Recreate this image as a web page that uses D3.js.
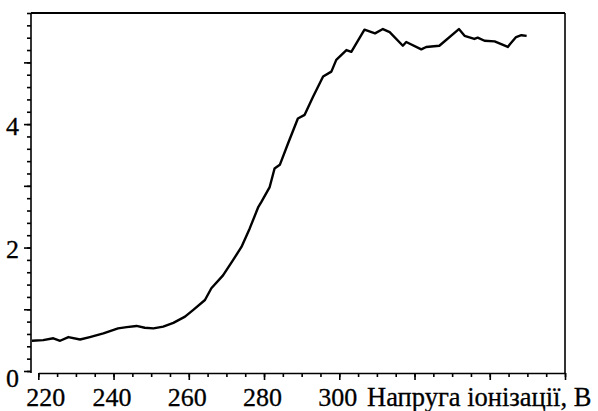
<!DOCTYPE html>
<html>
<head>
<meta charset="utf-8">
<script src="https://cdn.jsdelivr.net/npm/d3@7"></script>
<style>
  body { margin: 0; background: #fff; }
  .axis path, .axis line { stroke: #000; stroke-width: 1.6; }
</style>
</head>
<body>
<svg id="chart" width="598" height="411" font-family="Liberation Serif"></svg>
<script>
// Data
var voltage = [218.3, 221.3, 224, 225.8, 228, 231.1, 233.7, 237.3, 241.2, 243.5, 246.1, 248.3,
    250.6, 253.2, 255.9, 259, 261.2, 264.3, 266, 269.1, 271.8, 274, 276.2, 278.5, 279.3, 281.5,
    282.8, 284.2, 286.4, 289, 290.8, 293, 295.7, 297.9, 299.2, 301.9, 303.2, 306.7, 309.5, 311.6,
    313.4, 316.9, 317.8, 321.8, 323.1, 326.6, 331.8, 333.3, 335.9, 336.8, 338.6, 341.3, 344.8,
    345.3, 347, 348.4, 349.8];
var signal = [0.49, 0.50, 0.53, 0.49, 0.55, 0.51, 0.55, 0.61, 0.69, 0.71, 0.73, 0.70,
    0.69, 0.72, 0.78, 0.88, 0.99, 1.15, 1.34, 1.55, 1.80, 2.01, 2.31, 2.66, 2.74, 2.98,
    3.28, 3.34, 3.69, 4.09, 4.15, 4.44, 4.77, 4.85, 5.04, 5.20, 5.17, 5.53, 5.47, 5.54,
    5.49, 5.27, 5.33, 5.21, 5.25, 5.27, 5.54, 5.43, 5.38, 5.40, 5.35, 5.34, 5.25,
    5.29, 5.41, 5.44, 5.43];

var xLabels = [220, 240, 260, 280, 300];
var yLabels = [0, 2, 4];
var xTitle = "Напруга іонізації, В";

var data = voltage.map(function (v, i) { return { v: v, s: signal[i] }; });

var yAxisX = 31, xAxisY = 373;
var FONT = "Liberation Serif";

// scales
var x = d3.scaleLinear().domain([220, 360]).range([38.3, 565]);
var y = d3.scaleLinear().domain([0, 5.8]).range([371, 13]);

var svg = d3.select("#chart");

// minor + major ticks for x
var xMinor = d3.range(220, 361, 5);
var xMajor = d3.range(220, 361, 20);

svg.append("g")
    .attr("class", "axis")
    .attr("transform", "translate(0," + xAxisY + ")")
    .call(d3.axisBottom(x).tickValues(xMinor).tickSize(4).tickSizeOuter(0).tickFormat(""));

svg.append("g")
    .attr("class", "axis")
    .attr("transform", "translate(0," + xAxisY + ")")
    .call(d3.axisBottom(x).tickValues(xMajor).tickSize(7).tickSizeOuter(0)
        .tickFormat(function (d) { return xLabels.indexOf(d) >= 0 ? d : ""; }))
    .attr("font-family", FONT)
    .attr("font-size", 26)
    .call(function (g) { g.select(".domain").remove(); })
    .selectAll("text")
    .attr("font-family", FONT)
    .attr("y", 33)
    .attr("dy", 0)
    .attr("x", function (d) { return d == 220 ? 7 : -2; })
    .attr("fill", "#000")
    .attr("stroke", "#000")
    .attr("stroke-width", 0.3);

// y axis
var yMinor = d3.range(0, 5.81, 0.2);
var yMajor = d3.range(0, 6, 1);

svg.append("g")
    .attr("class", "axis")
    .attr("transform", "translate(" + yAxisX + ",0)")
    .call(d3.axisLeft(y).tickValues(yMinor).tickSize(4).tickSizeOuter(0).tickFormat(""))
    .select(".domain")
    .attr("d", "M0," + y(5.8) + "V" + (xAxisY));

svg.append("g")
    .attr("class", "axis")
    .attr("transform", "translate(" + yAxisX + ",0)")
    .call(d3.axisLeft(y).tickValues(yMajor).tickSize(7).tickSizeOuter(0)
        .tickFormat(function (d) { return yLabels.indexOf(d) >= 0 ? d : ""; }))
    .attr("font-family", FONT)
    .attr("font-size", 26)
    .call(function (g) { g.select(".domain").remove(); })
    .selectAll("text")
    .attr("font-family", FONT)
    .attr("x", -12)
    .attr("dy", function (d) { return d == 0 ? "0.6em" : "0.4em"; })
    .attr("fill", "#000")
    .attr("stroke", "#000")
    .attr("stroke-width", 0.3);

// frame: top and right
svg.append("line")
    .attr("x1", yAxisX).attr("x2", x(360))
    .attr("y1", y(5.8)).attr("y2", y(5.8))
    .attr("stroke", "#000").attr("stroke-width", 2);
svg.append("line")
    .attr("x1", x(360)).attr("x2", x(360))
    .attr("y1", y(5.8)).attr("y2", xAxisY)
    .attr("stroke", "#000").attr("stroke-width", 1.6);

// axis title
svg.append("text")
    .attr("x", 367)
    .attr("y", 406)
    .attr("font-family", FONT)
    .attr("font-size", 26.5)
    .attr("stroke", "#000")
    .attr("stroke-width", 0.3)
    .text(xTitle);

// the curve
var line = d3.line()
    .x(function (d) { return x(d.v); })
    .y(function (d) { return y(d.s); });

svg.append("path")
    .datum(data)
    .attr("d", line)
    .attr("fill", "none")
    .attr("stroke", "#000")
    .attr("stroke-width", 2.4)
    .attr("stroke-linejoin", "round");
</script>
</body>
</html>
